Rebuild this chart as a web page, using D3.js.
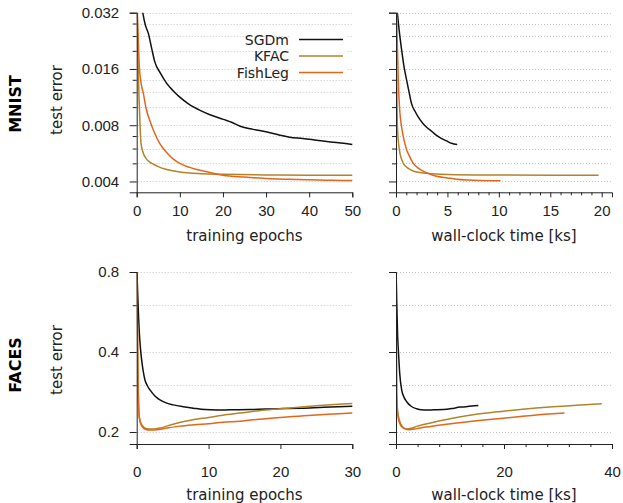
<!DOCTYPE html>
<html>
<head>
<meta charset="utf-8">
<script src="https://cdn.jsdelivr.net/npm/d3@7.9.0/dist/d3.min.js"></script>
<style>
  body { margin: 0; background: #fff; }
  svg { font-family: "DejaVu Sans", sans-serif; }
  .grid line { stroke: #c8c8c8; stroke-dasharray: 1 2; }
  .axis path, .axis line { stroke: #222; }
  .axis text { fill: #222; font-size: 15px; }
</style>
</head>
<body>
<svg id="chart" width="623" height="503"></svg>
<script>
// series names and colours
const seriesNames = ['SGDm', 'KFAC', 'FishLeg'];
const seriesColors = ['#111111', '#b3832a', '#e3661b'];

// MNIST, test error vs training epochs
const mnistEpochSGDm = [[1.2, 0.034], [1.4, 0.032], [2.0, 0.0275], [2.7, 0.0248], [3.5, 0.0205], [4.2, 0.01745], [5.5, 0.0152], [7, 0.01335], [8.5, 0.0122], [10, 0.0113], [12, 0.0104], [14.7, 0.0096], [17, 0.0091], [20.1, 0.0086], [22, 0.0083], [24, 0.0079], [27, 0.0076], [30, 0.00738], [33, 0.0071], [35.5, 0.0069], [38.5, 0.0068], [41.7, 0.00665], [45, 0.0065], [48, 0.0064], [50, 0.0063]];
const mnistEpochKFAC = [[0, 0.034], [0.2, 0.024], [0.35, 0.016], [0.55, 0.011], [0.8, 0.0078], [1.0, 0.0064], [1.5, 0.0057], [2.2, 0.0053], [3, 0.00508], [4, 0.00493], [5, 0.0048], [7, 0.00463], [10, 0.00449], [15, 0.0044], [20, 0.00437], [30, 0.00433], [40, 0.00432], [50, 0.00432]];
const mnistEpochFishLeg = [[0.1, 0.034], [0.25, 0.028], [0.45, 0.02], [0.65, 0.016], [1.0, 0.0135], [1.55, 0.0118], [2.2, 0.0098], [3.1, 0.0084], [4.0, 0.0074], [5.4, 0.00635], [7, 0.0057], [8.5, 0.00527], [10, 0.005], [13, 0.0047], [16, 0.00452], [20, 0.00432], [25, 0.00422], [30, 0.00415], [35, 0.00411], [40, 0.00408], [45, 0.00406], [50, 0.00405]];

// MNIST, test error vs wall-clock time [ks]
const mnistTimeSGDm = [[0.08, 0.034], [0.13, 0.032], [0.3, 0.026], [0.55, 0.0202], [0.8, 0.0162], [1.04, 0.0139], [1.3, 0.0118], [1.52, 0.0104], [1.85, 0.0095], [2.17, 0.00883], [2.6, 0.0082], [2.98, 0.0078], [3.5, 0.0074], [3.95, 0.00705], [4.4, 0.0068], [4.92, 0.00659], [5.4, 0.0064], [5.95, 0.0063]];
const mnistTimeKFAC = [[0, 0.034], [0.05, 0.016], [0.13, 0.008], [0.33, 0.0059], [0.71, 0.005], [1.2, 0.0047], [1.68, 0.00455], [2.98, 0.00442], [5, 0.00436], [10, 0.00433], [15, 0.00432], [19.7, 0.00432]];
const mnistTimeFishLeg = [[0.05, 0.034], [0.1, 0.025], [0.23, 0.0134], [0.35, 0.0098], [0.55, 0.0078], [0.8, 0.0066], [1.04, 0.0059], [1.35, 0.0054], [1.68, 0.005], [2.2, 0.0047], [2.8, 0.0045], [3.4, 0.00436], [3.95, 0.00427], [5, 0.00418], [5.9, 0.00411], [7, 0.00407], [8.15, 0.00405], [10.16, 0.00404]];

// FACES, test error vs training epochs
const facesEpochSGDm = [[0, 0.85], [0.15, 0.65], [0.25, 0.55], [0.37, 0.47], [0.5, 0.42], [0.69, 0.373], [0.9, 0.34], [1.15, 0.314], [1.5, 0.298], [1.85, 0.288], [2.5, 0.274], [3.24, 0.264], [4, 0.258], [5.1, 0.253], [6.5, 0.249], [7.9, 0.246], [9.5, 0.243], [11.1, 0.242], [13, 0.2425], [15.8, 0.243], [18, 0.244], [20.4, 0.245], [23, 0.246], [26, 0.248], [28, 0.249], [30, 0.25]];
const facesEpochKFAC = [[0, 0.85], [0.1, 0.5], [0.2, 0.306], [0.36, 0.228], [0.69, 0.213], [1.39, 0.2057], [2.3, 0.2053], [3.24, 0.207], [4.3, 0.211], [5.56, 0.2158], [7.5, 0.2215], [10, 0.227], [12, 0.2315], [14.4, 0.2357], [17, 0.2405], [20, 0.2446], [22.5, 0.248], [25, 0.2512], [27.5, 0.254], [30, 0.2562]];
const facesEpochFishLeg = [[0, 0.85], [0.1, 0.5], [0.2, 0.3], [0.36, 0.226], [0.69, 0.211], [1.2, 0.205], [1.85, 0.2035], [2.8, 0.204], [4.2, 0.207], [6, 0.2105], [8, 0.213], [10, 0.215], [12, 0.2175], [14.4, 0.2197], [17, 0.2235], [20, 0.227], [22.5, 0.2295], [25, 0.232], [27.5, 0.234], [30, 0.2357]];

// FACES, test error vs wall-clock time [ks]
const facesTimeSGDm = [[0, 0.85], [0.15, 0.6], [0.3, 0.46], [0.43, 0.409], [0.7, 0.33], [1.05, 0.288], [1.5, 0.27], [1.98, 0.26], [2.8, 0.25], [3.83, 0.2446], [4.7, 0.2425], [5.68, 0.242], [7, 0.2425], [8.77, 0.243], [10.3, 0.245], [11.85, 0.2483], [13, 0.249], [14, 0.2505], [15.25, 0.2519]];
const facesTimeKFAC = [[0, 0.85], [0.06, 0.45], [0.12, 0.288], [0.3, 0.24], [0.6, 0.2224], [1.17, 0.2098], [1.98, 0.2053], [2.8, 0.2065], [3.83, 0.21], [5.5, 0.2145], [7.53, 0.2193], [10.5, 0.2255], [13.7, 0.2315], [16.8, 0.236], [19.9, 0.2395], [23, 0.243], [26, 0.2462], [29, 0.2488], [32.2, 0.2512], [35, 0.2535], [38.1, 0.2555]];
const facesTimeFishLeg = [[0, 0.85], [0.06, 0.45], [0.12, 0.28], [0.3, 0.235], [0.6, 0.218], [1.17, 0.208], [2.28, 0.204], [3.83, 0.206], [5.5, 0.2088], [7.53, 0.2116], [10.5, 0.2155], [13.7, 0.2193], [16.8, 0.2225], [19.9, 0.2255], [23, 0.2288], [26, 0.232], [29, 0.2342], [31.2, 0.2357]];

// tick values
const mnistYLabels = [0.004, 0.008, 0.016, 0.032];
const mnistYMinor = [0.005, 0.006, 0.007, 0.010, 0.012, 0.014, 0.020, 0.024, 0.028];
const facesYLabels = [0.2, 0.4, 0.8];
const facesYMinor = [0.3, 0.6];

const svg = d3.select('#chart');

// one panel of the grid
function drawPanel(opts) {
  const { x0, x1, yTop, yBot, xDomain, yDomain, series, xMajor, xMinor,
          yMajor, yMinor, showYLabels, yFormat, xLabel, xLabelY, xTickY, id } = opts;

  const x = d3.scaleLinear().domain(xDomain).range([x0, x1]);
  const y = d3.scaleLog().base(2).domain(yDomain).range([yBot, yTop]);

  const g = svg.append('g');

  // dotted grid
  g.append('g').attr('class', 'grid')
    .selectAll('line')
    .data(yMajor.concat(yMinor))
    .join('line')
    .attr('x1', x0 + 1).attr('x2', x1)
    .attr('y1', d => Math.round(y(d)) + 0.5)
    .attr('y2', d => Math.round(y(d)) + 0.5);

  // curves
  g.append('clipPath').attr('id', id)
    .append('rect')
    .attr('x', x0).attr('y', yTop)
    .attr('width', x1 - x0 + 2).attr('height', yBot - yTop);

  const line = d3.line()
    .x(d => x(d[0]))
    .y(d => y(d[1]))
    .curve(d3.curveMonotoneX);

  g.append('g').attr('clip-path', `url(#${id})`)
    .selectAll('path')
    .data(series)
    .join('path')
    .attr('d', d => line(d))
    .attr('fill', 'none')
    .attr('stroke', (d, i) => seriesColors[i])
    .attr('stroke-width', 1.5)
    .attr('stroke-linejoin', 'round');

  // y axis
  g.append('g').attr('class', 'axis')
    .attr('transform', `translate(${x0},0)`)
    .call(d3.axisLeft(y).tickValues(yMajor).tickSize(7).tickPadding(10.5)
      .tickFormat(showYLabels ? yFormat : () => ''));
  g.append('g').attr('class', 'axis')
    .attr('transform', `translate(${x0},0)`)
    .call(d3.axisLeft(y).tickValues(yMinor).tickSize(4).tickFormat(() => ''))
    .select('.domain').remove();

  // x axis
  const xAxis = g.append('g').attr('class', 'axis')
    .attr('transform', `translate(0,${yBot})`)
    .call(d3.axisBottom(x).tickValues(xMajor).tickSize(5).tickFormat(d3.format('d')));
  xAxis.selectAll('text').attr('dy', null).attr('y', xTickY);
  if (xMinor.length) {
    g.append('g').attr('class', 'axis')
      .attr('transform', `translate(0,${yBot})`)
      .call(d3.axisBottom(x).tickValues(xMinor).tickSize(3).tickFormat(() => ''))
      .select('.domain').remove();
  }

  g.append('text')
    .attr('x', (x0 + x1) / 2).attr('y', xLabelY)
    .attr('text-anchor', 'middle')
    .attr('fill', '#222')
    .style('font-size', '15px')
    .text(xLabel);

  return { x, y };
}

const leftX = [136.7, 352.3];
const rightX = [396, 612];
const mnistY = { yTop: 12.7, yBot: 192.3, yDomain: [0.0035, 0.032] };
const facesY = { yTop: 272, yBot: 444, yDomain: [0.1803, 0.8] };
const fmtMnist = d3.format('.3f');
const fmtFaces = d3.format('.1f');

drawPanel({
  id: 'c1', x0: leftX[0], x1: leftX[1], ...mnistY, xDomain: [0, 50],
  series: [mnistEpochSGDm, mnistEpochKFAC, mnistEpochFishLeg],
  xMajor: d3.range(0, 51, 10), xMinor: [],
  yMajor: mnistYLabels, yMinor: mnistYMinor, showYLabels: true, yFormat: fmtMnist,
  xLabel: 'training epochs', xLabelY: 240.5, xTickY: 24
});
drawPanel({
  id: 'c2', x0: rightX[0], x1: rightX[1], ...mnistY, xDomain: [0, 21],
  series: [mnistTimeSGDm, mnistTimeKFAC, mnistTimeFishLeg],
  xMajor: d3.range(0, 21, 5), xMinor: d3.range(1, 21).filter(v => v % 5),
  yMajor: mnistYLabels, yMinor: mnistYMinor, showYLabels: false, yFormat: fmtMnist,
  xLabel: 'wall-clock time [ks]', xLabelY: 240.5, xTickY: 24
});
drawPanel({
  id: 'c3', x0: leftX[0], x1: leftX[1], ...facesY, xDomain: [0, 30],
  series: [facesEpochSGDm, facesEpochKFAC, facesEpochFishLeg],
  xMajor: d3.range(0, 31, 10), xMinor: [],
  yMajor: facesYLabels, yMinor: facesYMinor, showYLabels: true, yFormat: fmtFaces,
  xLabel: 'training epochs', xLabelY: 500, xTickY: 32.5
});
drawPanel({
  id: 'c4', x0: rightX[0], x1: rightX[1], ...facesY, xDomain: [0, 40],
  series: [facesTimeSGDm, facesTimeKFAC, facesTimeFishLeg],
  xMajor: [0, 20, 40], xMinor: d3.range(4, 40, 4).filter(v => v !== 20),
  yMajor: facesYLabels, yMinor: facesYMinor, showYLabels: false, yFormat: fmtFaces,
  xLabel: 'wall-clock time [ks]', xLabelY: 500, xTickY: 32.5
});

// y titles and row titles
function sideLabel(txt, cx, cy, bold) {
  svg.append('text')
    .attr('transform', `translate(${cx},${cy}) rotate(-90)`)
    .attr('text-anchor', 'middle')
    .attr('dominant-baseline', 'central')
    .attr('fill', bold ? '#000' : '#222')
    .style('font-size', bold ? '16px' : '15px')
    .style('font-weight', bold ? 'bold' : 'normal')
    .text(txt);
}
sideLabel('test error', 57, 100, false);
sideLabel('MNIST', 15, 104, true);
sideLabel('test error', 57, 360, false);
sideLabel('FACES', 15, 365, true);

// legend
const legend = svg.append('g');
seriesNames.forEach((name, i) => {
  const ly = 39.5 + i * 16.5;
  legend.append('rect')
    .attr('x', 290).attr('y', ly - 11).attr('width', 56).attr('height', 15)
    .attr('fill', '#fff');
  legend.append('text')
    .attr('x', 289).attr('y', ly + 5)
    .attr('text-anchor', 'end')
    .attr('fill', '#222')
    .style('font-size', '14px')
    .text(name);
  legend.append('line')
    .attr('x1', 299).attr('x2', 343)
    .attr('y1', ly).attr('y2', ly)
    .attr('stroke', seriesColors[i])
    .attr('stroke-width', 1.5);
});
</script>
</body>
</html>
